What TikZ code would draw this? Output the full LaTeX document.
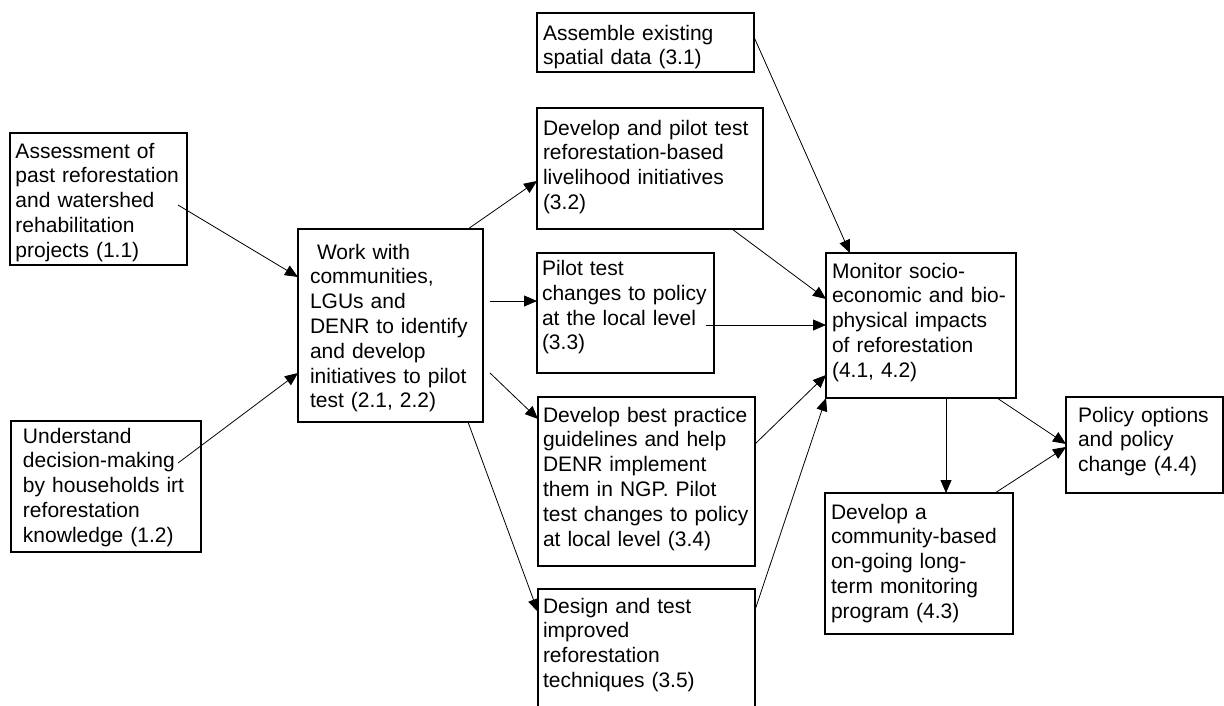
\documentclass[tikz,border=0pt]{standalone}
\usepackage{fontspec}
\setmainfont{Liberation Sans}
\usetikzlibrary{arrows.meta,calc}
\hyphenpenalty=10000
\exhyphenpenalty=10000

\begin{document}
\begin{tikzpicture}[
    x=1pt, y=-1pt,
    box/.style={draw, line width=1.6pt, outer sep=0pt, anchor=north west, align=left,
        inner xsep=6pt, inner ysep=0pt, font=\fontsize{21}{24.8}\selectfont},
    arr/.style={line width=0.8pt, -{Triangle[length=13pt, width=11pt]}},
]

% Page frame
\useasboundingbox (0,0) rectangle (1224,705);
\clip (0,0) rectangle (1224,705);

% === Column 1: assessments ===
\node[box, inner xsep=5.5pt, text width=166pt, text height=25pt, text depth=107pt] (a11) at (10,133)
    {Assessment of\\past reforestation\\and watershed\\rehabilitation\\projects (1.1)};
\node[box, inner xsep=12pt, text width=166pt, text height=22pt, text depth=109pt] (a12) at (11,421)
    {Understand\\decision-making\\by households irt\\reforestation\\knowledge (1.2)};

% === Column 2: work with communities ===
\node[box, inner xsep=12pt, text width=161pt, text height=30pt, text depth=163pt] (w2) at (298,229)
    {\ Work with\\communities,\\LGUs and\\DENR to identify\\and develop\\initiatives to pilot\\test (2.1, 2.2)};

% === Column 3: pilot activities ===
\node[box, text width=205pt, text height=27pt, text depth=32pt] (s31) at (537,13)
    {Assemble existing\\spatial data (3.1)};
\node[box, text width=214pt, text height=27pt, text depth=94pt] (s32) at (537,108)
    {Develop and pilot test\\reforestation-based\\livelihood initiatives\\(3.2)};
\node[box, inner xsep=5pt, text width=167pt, text height=22.5pt, text depth=97.5pt] (s33) at (537,253)
    {Pilot test\\changes to policy\\at the local level\\(3.3)};
\node[box, inner xsep=5pt, text width=207pt, text height=25pt, text depth=144pt] (s34) at (538,397)
    {Develop best practice\\guidelines and help\\DENR implement\\them in NGP. Pilot\\test changes to policy\\at local level (3.4)};
\node[box, inner xsep=5pt, text width=207pt, text height=24pt, text depth=107pt] (s35) at (538,589)
    {Design and test\\improved\\reforestation\\techniques (3.5)};

% === Column 4: monitoring and policy ===
\node[box, text width=178pt, text height=25pt, text depth=120pt] (m41) at (826,253)
    {Monitor socio-\\economic and bio-\\physical impacts\\of reforestation\\(4.1, 4.2)};
\node[box, text width=176pt, text height=26pt, text depth=115pt] (m43) at (825,493)
    {Develop a\\community-based\\on-going long-\\term monitoring\\program (4.3)};
\node[box, inner xsep=12pt, text width=133pt, text height=25pt, text depth=71pt] (p44) at (1066,397)
    {Policy options\\and policy\\change (4.4)};

% === Arrows ===
\draw[arr] ($(a11.east)+(-9,6)$) -- ($(w2.north west)+(0,48)$);
\draw[arr] ($(a12.north east)+(-23,42)$) -- ($(w2.north west)+(0,144)$);

\draw[arr] ($(w2.north east)+(-15,0)$) -- ($(s32.north west)+(0,73)$);
\draw[arr] ($(w2.north east)+(7,72)$) -- ($(s33.north west)+(0,48)$);
\draw[arr] ($(w2.north east)+(7,144)$) -- ($(s34.north west)+(0,22)$);
\draw[arr] ($(w2.south east)+(-15,0)$) -- ($(s35.north west)+(0,23)$);

\draw[arr] ($(s31.north east)+(0,24)$) -- ($(m41.north west)+(24,0)$);
\draw[arr] ($(s32.south east)+(-31,0)$) -- ($(m41.north west)+(0,46)$);
\draw[arr] ($(s33.north east)+(-8,72)$) -- ($(m41.north west)+(0,72)$);
\draw[arr] ($(s34.north east)+(0,47)$) -- ($(m41.north west)+(0,122)$);
\draw[arr] ($(s35.north east)+(0,21)$) -- (m41.south west);

\draw[arr] ($(m41.south west)+(120,0)$) -- ($(m43.north west)+(121,0)$);
\draw[arr] ($(m41.south east)+(-19,0)$) -- ($(p44.west)+(0,-1)$);
\draw[arr] ($(m43.north east)+(-18,0)$) -- ($(p44.west)+(0,2)$);

\end{tikzpicture}
\end{document}
